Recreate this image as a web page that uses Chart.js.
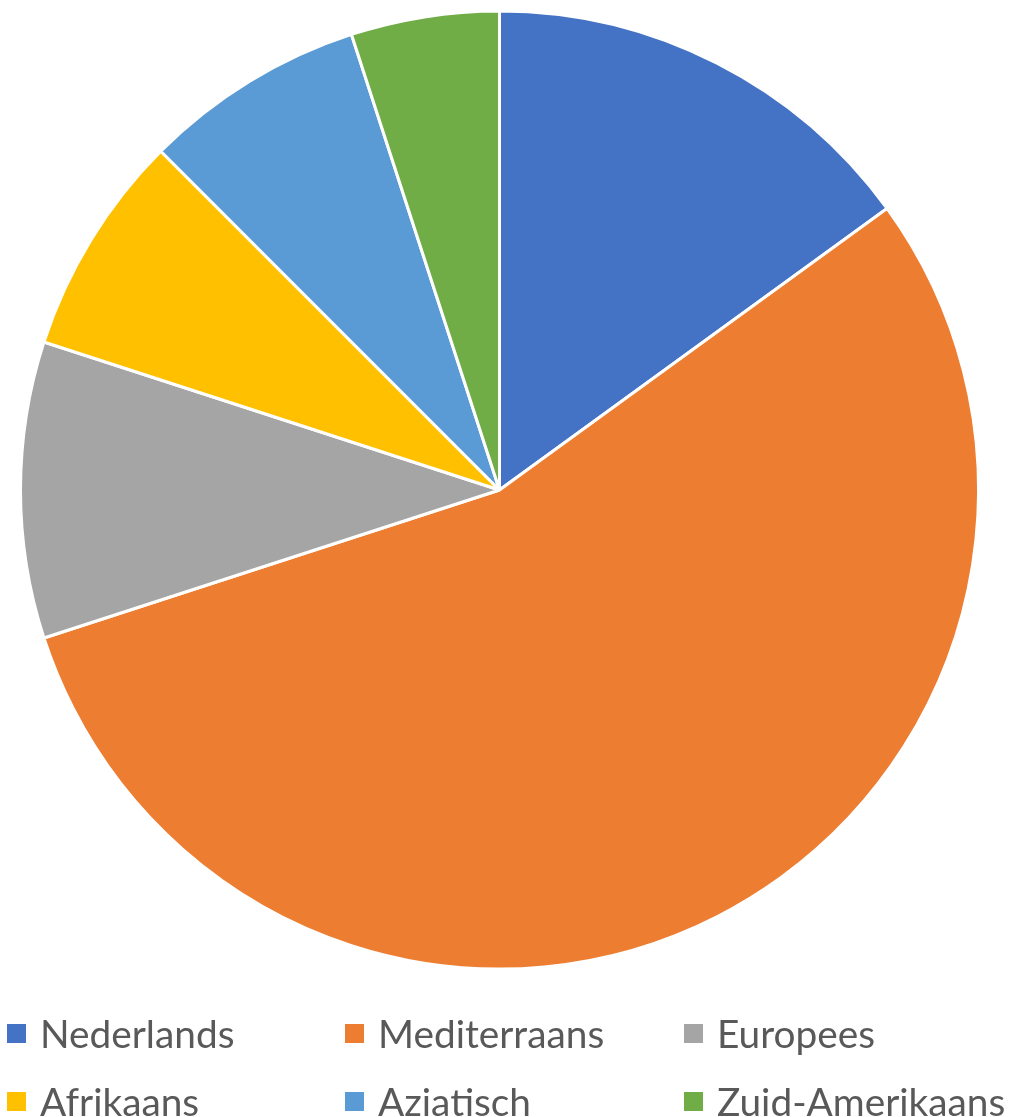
<!DOCTYPE html>
<html>
<head>
<meta charset="utf-8">
<script src="https://cdn.jsdelivr.net/npm/chart.js@4.4.0/dist/chart.umd.min.js"></script>
<style>
  html, body { margin: 0; padding: 0; background: #fff; }
  #wrap { position: relative; width: 1014px; height: 1117px; overflow: hidden; }
  #pieBox { position: absolute; left: 0; top: 0; width: 999px; height: 980px; }
  #legend { position: absolute; left: 0; top: 0; width: 1014px; height: 1117px; pointer-events: none; }
  .item { position: absolute; display: flex; align-items: center; white-space: nowrap;
          font-family: Lato, sans-serif; font-size: 38.8px; color: #595959; line-height: 40px; }
  .box { width: 19px; height: 19px; margin-right: 14px; flex: none; }
</style>
</head>
<body>
<div id="wrap">
  <div id="pieBox"><canvas id="KeukenChart"></canvas></div>
  <div id="legend"></div>
</div>
<script>
const categories = ['Nederlands', 'Mediterraans', 'Europees', 'Afrikaans', 'Aziatisch', 'Zuid-Amerikaans']
const counts = [6, 22, 4, 3, 3, 2]
const sliceColors = ['#4472C4', '#ED7D31', '#A5A5A5', '#FFC000', '#5B9BD5', '#70AD47']

// legend grid, three per row like the office-style chart
const colX = [7, 345, 684]
const rowY = [1013, 1081]
const legend = document.getElementById('legend')
categories.forEach((name, i) => {
  const item = document.createElement('div')
  item.className = 'item'
  item.style.left = colX[i % 3] + 'px'
  item.style.top = rowY[Math.floor(i / 3)] + 'px'
  const box = document.createElement('span')
  box.className = 'box'
  box.style.background = sliceColors[i]
  const label = document.createElement('span')
  label.textContent = name
  item.appendChild(box)
  item.appendChild(label)
  legend.appendChild(item)
})

new Chart(document.getElementById('KeukenChart'), {
  type: 'pie',
  data: {
    labels: categories,
    datasets: [
      {
        data: counts,
        backgroundColor: sliceColors,
        borderColor: '#ffffff',
        borderWidth: 3
      }
    ]
  },
  options: {
    responsive: true,
    maintainAspectRatio: false,
    animation: false,
    radius: 479,
    plugins: {
      legend: { display: false },
      tooltip: { enabled: false }
    }
  }
})
</script>
</body>
</html>
